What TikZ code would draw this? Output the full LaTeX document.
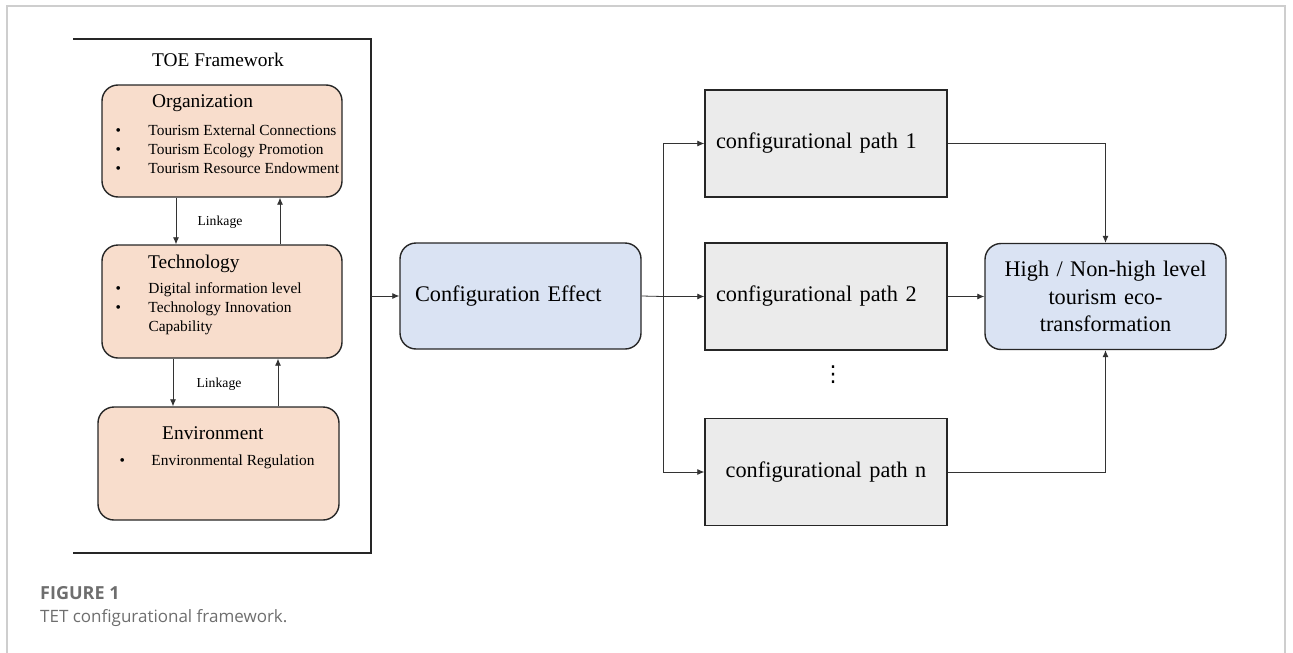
\documentclass[tikz,border=0pt]{standalone}
\usepackage{fontspec}
\setmainfont{Liberation Serif}
\newfontfamily\capfont{Open Sans}
\newfontfamily\symfont{DejaVu Sans}
\usepackage{tikz}
\usetikzlibrary{arrows.meta}

\definecolor{toefill}{RGB}{248,221,204}
\definecolor{effectfill}{RGB}{218,227,243}
\definecolor{pathfill}{RGB}{235,235,235}
\definecolor{pagegray}{RGB}{206,206,206}
\definecolor{capgray}{RGB}{110,110,110}

\begin{document}
\begin{tikzpicture}[x=1pt,y=-1pt,
  toebox/.style={draw=black!85, line width=1.4pt, fill=toefill, rounded corners=16pt,
    minimum width=240pt, minimum height=112pt, inner sep=0pt},
  effectbox/.style={draw=black!85, line width=1.4pt, fill=effectfill, rounded corners=16pt,
    minimum width=241pt, minimum height=106pt, text width=211pt,
    font=\fontsize{22.3}{27.5}\selectfont},
  pathbox/.style={draw=black!85, line width=1.4pt, fill=pathfill,
    minimum width=242pt, minimum height=107pt, text width=220pt,
    font=\fontsize{22.3}{27.5}\selectfont},
  titletext/.style={anchor=base west, inner sep=0pt, font=\fontsize{19.4}{23}\selectfont},
  itemtext/.style={anchor=base west, inner sep=0pt, font=\fontsize{15.4}{19}\selectfont},
  linktext/.style={anchor=base, inner sep=0pt, font=\fontsize{13.7}{16}\selectfont},
  link/.style={draw=black!80, line width=0.8pt},
  arr/.style={link, -{Latex[length=7pt,width=6pt]}}]

\useasboundingbox (0,0) rectangle (1293,653);

% page frame, open at the bottom
\draw[pagegray, line width=2pt] (7,653) -- (7,6) -- (1285,6) -- (1285,653);

% TOE frame
\draw[black!85, line width=1.3pt] (73,39) -- (371,39) -- (371,553) -- (73,553);
\node[anchor=base, inner sep=0pt, font=\fontsize{19.4}{23}\selectfont] (toetitle) at (218,66) {TOE Framework};
\coordinate (toeout) at (371,296);

\node[toebox] (org) at (222,141) {};
\node[titletext] (orgtitle) at (152,107) {Organization};
\node[itemtext] (orgitems) at (115.3,135) {\begin{tabular}[t]{@{}p{33pt}@{}l@{}}
\textbullet & Tourism External Connections\\
\textbullet & Tourism Ecology Promotion\\
\textbullet & Tourism Resource Endowment
\end{tabular}};

\node[toebox, minimum height=113pt] (tech) at (222,301.5) {};
\node[titletext] (techtitle) at (148,268) {Technology};
\node[itemtext] (techitems) at (115.3,293) {\begin{tabular}[t]{@{}p{33pt}@{}l@{}}
\textbullet & Digital information level\\
\textbullet & Technology Innovation\\
 & Capability
\end{tabular}};

\node[toebox, minimum width=241pt, minimum height=113pt] (env) at (218.5,463.5) {};
\node[titletext] (envtitle) at (162,439) {Environment};
\node[itemtext] (envitems) at (119.3,465) {\begin{tabular}[t]{@{}p{32pt}@{}l@{}}
\textbullet & Environmental Regulation
\end{tabular}};

% linkage arrows
\draw[arr] ([xshift=-46pt]org.south) -- ([xshift=-46pt]org.south |- tech.north);
\draw[arr] ([xshift=58pt]tech.north) -- ([xshift=58pt]tech.north |- org.south);
\node[linktext] (link1) at (220,225) {Linkage};
\draw[arr] ([xshift=-49pt]tech.south) -- ([xshift=-49pt]tech.south |- env.north);
\draw[arr] ([xshift=56pt]env.north -| tech.south) -- ([xshift=56pt]tech.south);
\node[linktext] (link2) at (219,387) {Linkage};

% configuration effect and paths
\node[effectbox, align=left] (effect) at (520.5,296) {Configuration Effect};
\draw[arr] (toeout) -- (effect.west);

\node[pathbox, align=left] (path1) at (826,143.5) {configurational path 1};
\node[pathbox, align=left] (path2) at (826,296.5) {configurational path 2};
\node[pathbox, align=center] (pathn) at (826,472) {configurational path n};
\node[inner sep=0pt, font=\symfont\fontsize{22}{24}\selectfont] (dots) at (833,375) {⋮};

\coordinate (split) at (663,296.5);
\draw[link] (effect.east) -- (split);
\draw[arr] (split) |- (path1.west);
\draw[arr] (split) -- (path2.west);
\draw[arr] (split) |- (pathn.west);

\node[effectbox, text width=225pt, align=center] (result) at (1105.5,296.5)
  {High / Non-high level\\tourism eco-\\transformation};
\draw[arr] (path1.east) -| (result.north);
\draw[arr] (path2.east) -- (result.west);
\draw[arr] (pathn.east) -| (result.south);

% caption
\node[anchor=base west, inner sep=0pt, text=capgray, font=\capfont\bfseries\fontsize{18}{20}\selectfont] (capnum) at (40,599) {FIGURE 1};
\node[anchor=base west, inner sep=0pt, text=capgray, font=\capfont\fontsize{17}{20}\selectfont] (captext) at (40,622) {TET configurational framework.};
\end{tikzpicture}
\end{document}
